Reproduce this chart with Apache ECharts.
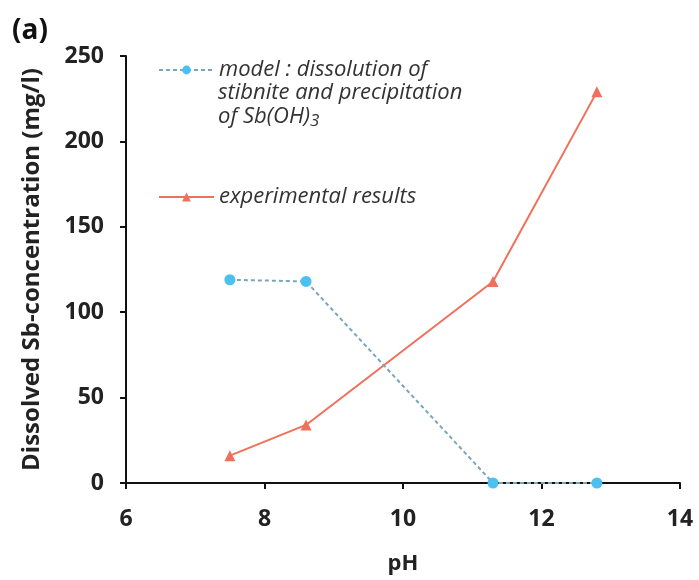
<!DOCTYPE html>
<html><head><meta charset="utf-8">
<script src="https://cdn.jsdelivr.net/npm/echarts@6/dist/echarts.min.js"></script>
<style>html,body{margin:0;padding:0;background:#fff}#c{width:699px;height:580px}</style>
</head><body><div id="c"></div>
<script>
const phModel = [7.5, 8.6, 11.3, 12.8];
const model = [119, 118, 0, 0];
const phExp = [7.5, 8.6, 11.3, 12.8];
const experimental = [16, 34, 118, 229];
const xTicks = [6, 8, 10, 12, 14];
const yTicks = [0, 50, 100, 150, 200, 250];

const F = '"Open Sans", Lato, sans-serif';
const chart = echarts.init(document.getElementById('c'));
chart.setOption({
  backgroundColor: '#fff',
  animation: false,
  grid: { left: 126, right: 19, top: 56, bottom: 96 },
  xAxis: {
    type: 'value', min: xTicks[0], max: xTicks[xTicks.length - 1], interval: 2,
    name: 'pH', nameLocation: 'middle', nameGap: 70,
    nameTextStyle: { fontFamily: F, fontWeight: 'bold', fontSize: 22, color: '#222' },
    axisLine: { lineStyle: { color: '#111', width: 2 } },
    axisTick: { lineStyle: { color: '#111', width: 2 }, length: 6 },
    axisLabel: { fontFamily: F, fontWeight: 'bold', fontSize: 23, color: '#222', margin: 25 },
    splitLine: { show: false }
  },
  yAxis: {
    type: 'value', min: yTicks[0], max: yTicks[yTicks.length - 1], interval: 50,
    name: 'Dissolved Sb-concentration (mg/l)', nameLocation: 'middle', nameGap: 82, nameRotate: 90,
    nameTextStyle: { fontFamily: F, fontWeight: 'bold', fontSize: 24, color: '#222' },
    axisLine: { show: true, lineStyle: { color: '#111', width: 2 } },
    axisTick: { show: true, lineStyle: { color: '#111', width: 2 }, length: 6 },
    axisLabel: { fontFamily: F, fontWeight: 'bold', fontSize: 23, color: '#222', margin: 22 },
    splitLine: { show: false }
  },
  legend: [
    {
      data: ['model'], left: 158, top: 59, padding: 0, itemWidth: 55, itemHeight: 11, itemGap: 0,
      formatter: () => 'model : dissolution of',
      textStyle: { fontFamily: F, fontStyle: 'italic', fontSize: 22, color: '#333' }
    },
    {
      data: ['experimental'], left: 158, top: 186, padding: 0, itemWidth: 55, itemHeight: 11,
      formatter: () => 'experimental results',
      textStyle: { fontFamily: F, fontStyle: 'italic', fontSize: 22, color: '#333' }
    }
  ],
  graphic: [
    { type: 'text', left: 218, top: 82, style: { text: 'stibnite and precipitation', font: 'italic 22px ' + F, fill: '#333' } },
    { type: 'text', left: 218, top: 106, style: {
        rich: { a: { font: 'italic 22px ' + F, fill: '#333' }, s: { font: 'italic 17px ' + F, fill: '#333', padding: [9, 0, 0, 0] } },
        text: '{a|of Sb(OH)}{s|3}' } },
    { type: 'text', left: 12, top: 17, style: { text: '(a)', font: 'bold 28px ' + F, fill: '#111' } }
  ],
  series: [
    {
      name: 'model', type: 'line',
      data: phModel.map((x, i) => [x, model[i]]),
      symbol: 'circle', symbolSize: 11,
      itemStyle: { color: '#4cc0ee' },
      lineStyle: { color: '#7aa6bb', width: 2, type: [4, 3] },
      z: 3
    },
    {
      name: 'experimental', type: 'line',
      data: phExp.map((x, i) => [x, experimental[i]]),
      symbol: 'triangle', symbolSize: 11,
      itemStyle: { color: '#f0705c' },
      lineStyle: { color: '#f0705c', width: 2 },
      z: 2
    }
  ]
});
</script></body></html>
